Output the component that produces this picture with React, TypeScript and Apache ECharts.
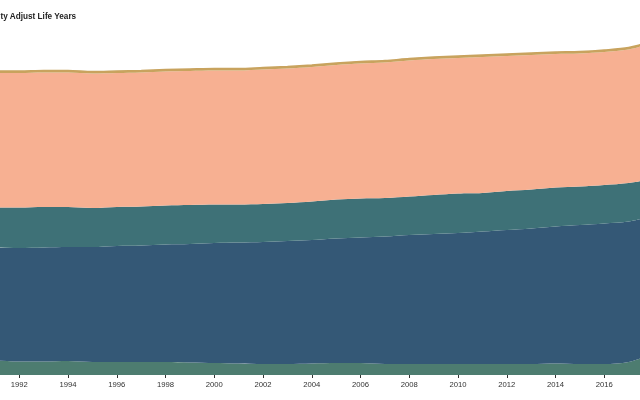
import React, { useEffect, useRef } from "react";
import * as echarts from "echarts";

const years = ["1990", "1991", "1992", "1993", "1994", "1995", "1996", "1997", "1998", "1999", "2000", "2001", "2002", "2003", "2004", "2005", "2006", "2007", "2008", "2009", "2010", "2011", "2012", "2013", "2014", "2015", "2016", "2017", "2018"];
const hiddenLabels = ["1990", "2018"];

const seriesNames = ["Group A", "Group B", "Group C", "Group D", "Group E"];

const groupA = [15, 14.5, 13.5, 13.5, 14, 13, 13, 13, 13, 12.5, 12, 11.5, 11, 11, 11.5, 12, 12, 11, 11, 11, 11, 11, 11, 11, 11.5, 11, 11, 13, 21];
const groupB = [113, 113, 113.5, 114, 114, 115, 116, 116.5, 117.5, 118.5, 120, 121, 122, 123, 123.5, 124.5, 125.5, 127.5, 129, 130, 131, 132.5, 134, 135.5, 137, 139, 140.5, 140.5, 138];
const groupC = [39.5, 40, 40.5, 40.5, 40, 39, 39, 39, 39, 39, 38.5, 38, 38, 38, 38.5, 39, 39, 38.5, 38.5, 39, 39.5, 38.5, 39, 39, 39, 38.5, 38.5, 38.5, 37];
const groupD = [134.5, 134.5, 134.5, 134.5, 134.5, 134.5, 134, 134, 134, 134, 134, 134, 134.5, 134.5, 134.5, 134.5, 135, 135.5, 136, 136, 135.5, 136, 135, 134.5, 133.5, 133, 133, 133.5, 136];
const groupE = [2, 2, 2, 2, 2, 2, 2, 2, 2, 2, 2, 2, 2, 2, 2, 2, 2, 2, 2, 2, 2, 2, 2, 2, 2, 2, 2, 2, 2];

const colors = ["#4d7c70", "#345876", "#3e7177", "#f7b092", "#c8a35e"];

export default function App() {
  const ref = useRef<HTMLDivElement>(null);
  useEffect(() => {
    if (!ref.current) return;
    const chart = echarts.init(ref.current, undefined, { renderer: "svg" });
    const all = [groupA, groupB, groupC, groupD, groupE];
    chart.setOption({
      animation: false,
      graphic: [
        {
          type: "text",
          left: 11.5,
          top: 12,
          style: {
            text: "Disability Adjust Life Years",
            font: "bold 8.2px 'Liberation Sans', Arial, sans-serif",
            fill: "#222",
          },
        },
      ],
      grid: { left: 10.6, right: 27, top: 25, bottom: 25 },
      xAxis: {
        type: "category",
        data: years,
        boundaryGap: false,
        axisLine: { show: false },
        axisTick: { show: true, length: 3, interval: 1, lineStyle: { color: "#333" } },
        splitLine: { show: false },
        axisLabel: {
          interval: 1,
          fontSize: 7.7,
          color: "#333",
          margin: 5,
          fontFamily: "'Liberation Sans', Arial, sans-serif",
          formatter: (v: string) => (hiddenLabels.includes(v) ? "" : v),
        },
      },
      yAxis: { type: "value", min: 0, max: 350, show: false },
      series: all.map((vals, i) => ({
        name: seriesNames[i],
        type: "line",
        stack: "total",
        smooth: 0.3,
        symbol: "none",
        data: vals,
        lineStyle: { width: i === 4 ? 1.5 : 0, color: colors[i] },
        areaStyle: { color: colors[i], opacity: 1 },
        itemStyle: { color: colors[i] },
      })),
    });
    return () => chart.dispose();
  }, []);
  return <div ref={ref} style={{ position: "fixed", left: -40, top: 0, width: 720, height: 400 }} />;
}
